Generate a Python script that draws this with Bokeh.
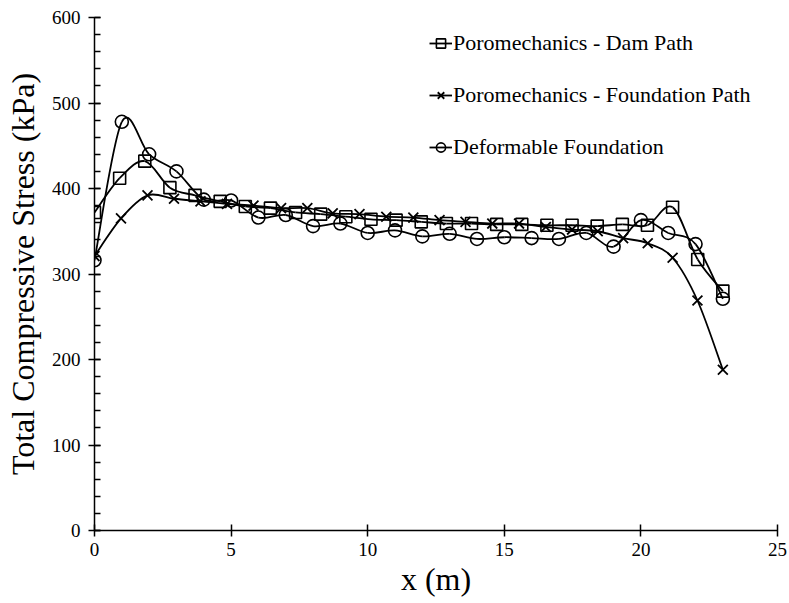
from bokeh.plotting import figure
from bokeh.models import Range1d, SingleIntervalTicker, Legend, LegendItem
from bokeh.embed import file_html
from bokeh.resources import INLINE

# ---- data ----
dam_x = [0, 0.92, 1.84, 2.76, 3.68, 4.6, 5.52, 6.44, 7.36, 8.28, 9.2, 10.12, 11.04,
         11.96, 12.88, 13.8, 14.72, 15.64, 16.56, 17.48, 18.4, 19.32, 20.24, 21.16, 22.08, 23.0]
dam_y = [372, 412, 432, 401, 392, 385, 379, 377, 372, 370, 367, 364, 363,
         361, 359, 359, 358, 358, 357, 357, 356, 358, 357, 378, 317, 280]

found_x = [0, 0.97, 1.94, 2.91, 3.88, 4.85, 5.82, 6.83, 7.79, 8.72, 9.7, 10.68, 11.67,
           12.63, 13.58, 14.56, 15.54, 16.52, 17.48, 18.42, 19.35, 20.25, 21.16, 22.07, 23.0]
found_y = [321, 365, 392, 388, 385, 382, 380, 377, 377, 371, 370, 367, 366,
           363, 361, 359, 359, 355, 352, 350, 342, 336, 319, 269, 188]

deform_x = [0, 1, 2, 3, 4, 5, 6, 7, 8, 9, 10, 11, 12, 13, 14, 15, 16, 17, 18, 19, 20, 21, 22, 23]
deform_y = [316, 478, 440, 420, 387, 386, 366, 369, 356, 359, 348, 351, 344, 347, 341, 343,
            342, 341, 348, 332, 363, 348, 335, 271]

labels = ["Poromechanics - Dam Path", "Poromechanics - Foundation Path", "Deformable Foundation"]
x_ticks_interval = 5
y_ticks_interval = 100

FONT = "Liberation Serif"


def smooth_segments(xs, ys, k=1.0 / 6.0):
    """Cubic Bezier segments (Catmull-Rom style, like a spreadsheet 'smoothed line')."""
    n = len(xs)
    x0, y0, x1, y1, cx0, cy0, cx1, cy1 = [], [], [], [], [], [], [], []
    for i in range(n - 1):
        pxm = xs[i - 1] if i > 0 else xs[i]
        pym = ys[i - 1] if i > 0 else ys[i]
        pxp = xs[i + 2] if i + 2 < n else xs[i + 1]
        pyp = ys[i + 2] if i + 2 < n else ys[i + 1]
        x0.append(xs[i]); y0.append(ys[i])
        x1.append(xs[i + 1]); y1.append(ys[i + 1])
        cx0.append(xs[i] + (xs[i + 1] - pxm) * k)
        cy0.append(ys[i] + (ys[i + 1] - pym) * k)
        cx1.append(xs[i + 1] - (pxp - xs[i]) * k)
        cy1.append(ys[i + 1] - (pyp - ys[i]) * k)
    return dict(x0=x0, y0=y0, x1=x1, y1=y1, cx0=cx0, cy0=cy0, cx1=cx1, cy1=cy1)


p = figure(width=789, height=603, output_backend="svg", toolbar_location=None,
           x_range=Range1d(0, 25), y_range=Range1d(0, 600),
           min_border_left=94, min_border_right=12, min_border_top=17, min_border_bottom=73)

p.outline_line_color = None
p.xgrid.visible = False
p.ygrid.visible = False
p.background_fill_color = "white"

LW = 1.8
series = [
    (dam_x, dam_y, "square", 12, 1.6),
    (found_x, found_y, "x", 14, 1.8),
    (deform_x, deform_y, "circle", 13, 1.6),
]
items = []
for (xs, ys, marker, size, mlw), lab in zip(series, labels):
    seg = smooth_segments(xs, ys)
    p.bezier(x0=seg["x0"], y0=seg["y0"], x1=seg["x1"], y1=seg["y1"],
             cx0=seg["cx0"], cy0=seg["cy0"], cx1=seg["cx1"], cy1=seg["cy1"],
             line_color="black", line_width=LW)
    # legend-only line sample (a single NaN point draws nothing on the plot)
    dummy = p.line(x=[float("nan")], y=[float("nan")], line_color="black", line_width=LW)
    m = p.scatter(x=xs, y=ys, marker=marker, size=size, line_color="black",
                  line_width=mlw, fill_color=None)
    items.append(LegendItem(label=lab, renderers=[dummy, m]))

legend = Legend(items=items, location=(335, 370), orientation="vertical",
                border_line_color=None, background_fill_alpha=0,
                padding=0, margin=0, spacing=26,
                glyph_width=23, glyph_height=26, label_height=26,
                label_standoff=1,
                label_text_font=FONT, label_text_font_size="22px",
                label_text_font_style="normal",
                label_text_color="black")
p.add_layout(legend)

# axes
for ax in (p.xaxis[0], p.yaxis[0]):
    ax.axis_line_color = "black"
    ax.axis_line_width = 1.5
    ax.major_tick_line_color = "black"
    ax.major_tick_line_width = 1.5
    ax.minor_tick_line_color = "black"
    ax.minor_tick_line_width = 1.5
    ax.major_tick_in = 6
    ax.major_tick_out = 6
    ax.major_label_text_font = FONT
    ax.major_label_text_font_size = "19px"
    ax.major_label_text_font_style = "normal"
    ax.major_label_text_color = "black"
    ax.axis_label_text_font = FONT
    ax.axis_label_text_font_size = "32px"
    ax.axis_label_text_font_style = "normal"
    ax.axis_label_text_color = "black"

p.xaxis[0].ticker = SingleIntervalTicker(interval=x_ticks_interval, num_minor_ticks=0)
p.yaxis[0].ticker = SingleIntervalTicker(interval=y_ticks_interval, num_minor_ticks=5)
p.yaxis[0].minor_tick_in = 6
p.yaxis[0].minor_tick_out = 0
p.xaxis[0].minor_tick_in = 0
p.xaxis[0].minor_tick_out = 0

p.xaxis[0].axis_label = "x (m)"
p.yaxis[0].axis_label = "Total Compressive Stress (kPa)"
p.xaxis[0].major_label_standoff = 6
p.yaxis[0].major_label_standoff = 8
p.xaxis[0].axis_label_standoff = 2
p.yaxis[0].axis_label_standoff = 8

open("out.html", "w").write(file_html(p, INLINE))
